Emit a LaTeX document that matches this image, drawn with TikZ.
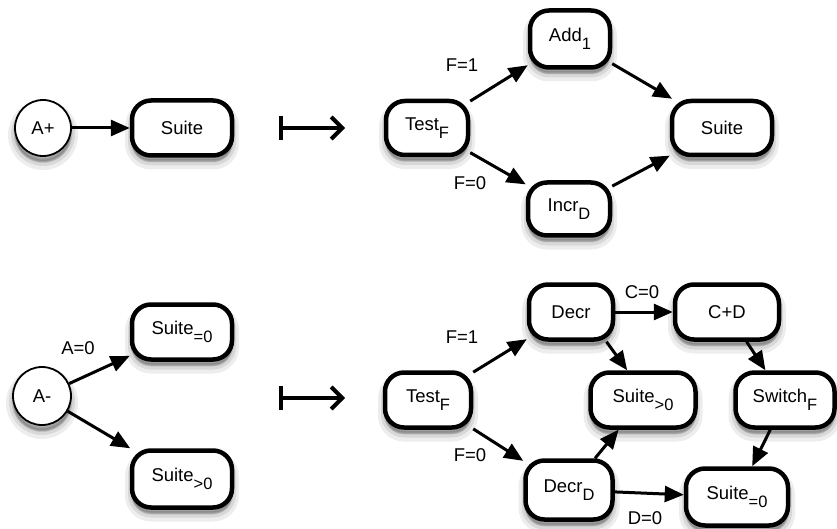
\documentclass[tikz,border=0pt]{standalone}
\usepackage{fontspec}
\setmainfont{Liberation Sans}
\usetikzlibrary{arrows.meta}
\newcommand{\sbx}[1]{\raisebox{-8pt}{\fontsize{16.5}{16.5}\selectfont #1}}
\begin{document}
\begin{tikzpicture}[x=1pt,y=-1pt,
  shad/.style={
    preaction={draw=black,fill=black,draw opacity=0.07,fill opacity=0.07,line width=14pt,transform canvas={yshift=-7pt}},
    preaction={draw=black,fill=black,draw opacity=0.09,fill opacity=0.09,line width=8pt,transform canvas={yshift=-6pt}},
    preaction={draw=black,fill=black,draw opacity=0.12,fill opacity=0.12,line width=3pt,transform canvas={yshift=-5pt}}},
  box/.style={draw,line width=4.5pt,rounded corners=19pt,fill=white,inner sep=0pt,font=\fontsize{18.5}{18.5}\selectfont,shad},
  circ/.style={circle,draw,line width=1.8pt,fill=white,inner sep=0pt,font=\fontsize{18.5}{18.5}\selectfont,shad},
  edge/.style={-{Triangle[length=19pt,width=16pt]},line width=3pt},
  lab/.style={font=\fontsize{18.5}{18.5}\selectfont,inner sep=0pt},
  mapsto/.style={{Bar[width=24pt]}-{Straight Barb[length=11pt,width=22pt]},line width=4pt}]
\useasboundingbox (0,0) rectangle (837,529);

% top left
\node[circ,minimum size=56pt] (aplus) at (43,128) {A+};
\node[box,minimum width=100pt,minimum height=55pt] (s1) at (182,128) {Suite};
\draw[edge] (aplus) -- (s1);
\coordinate (ms1) at (279,128);
\coordinate (me1) at (345,128);
\draw[mapsto] (ms1) -- (me1);

% top right
\node[box,minimum width=82pt,minimum height=54pt] (test1) at (427,128) {Test\sbx{F}};
\node[box,minimum width=80pt,minimum height=57pt] (add1) at (570,39) {Add\sbx{1}};
\node[box,minimum width=82pt,minimum height=53pt] (incr) at (569,209) {Incr\sbx{D}};
\node[box,minimum width=100pt,minimum height=54pt] (s2) at (722,128) {Suite};
\draw[edge] (test1) -- (add1);
\draw[edge] (test1) -- (incr);
\draw[edge] (add1) -- (s2);
\draw[edge] (incr) -- (s2);
\node[lab] (l1) at (462,65) {F=1};
\node[lab] (l2) at (470,183) {F=0};

% bottom left
\node[circ,minimum size=58pt] (aminus) at (42,396) {A-};
\node[box,minimum width=100pt,minimum height=55pt] (sz) at (182,332) {Suite\sbx{=0}};
\node[box,minimum width=100pt,minimum height=57pt] (sp) at (182,479) {Suite\sbx{>0}};
\draw[edge] (aminus) -- (sz);
\draw[edge] (aminus) -- (sp);
\node[lab] (l3) at (78,348) {A=0};
\coordinate (ms2) at (279,398);
\coordinate (me2) at (345,398);
\draw[mapsto] (ms2) -- (me2);

% bottom right
\node[box,minimum width=84pt,minimum height=55pt] (decr) at (571,312) {Decr};
\node[box,minimum width=104pt,minimum height=55pt] (cd) at (727,312) {C+D};
\node[box,minimum width=86pt,minimum height=55pt] (test2) at (428,400) {Test\sbx{F}};
\node[box,minimum width=105pt,minimum height=55pt] (sp2) at (643,400) {Suite\sbx{>0}};
\node[box,minimum width=99pt,minimum height=55pt] (sw) at (785,400) {Switch\sbx{F}};
\node[box,minimum width=87pt,minimum height=59pt] (decrd) at (569,490) {Decr\sbx{D}};
\node[box,minimum width=102pt,minimum height=57pt] (sz2) at (737,497) {Suite\sbx{=0}};
\draw[edge] (test2) -- (decr);
\draw[edge] (test2) -- (decrd);
\draw[edge] (decr) -- (cd);
\draw[edge] (decr.-40) -- (sp2.118);
\draw[edge] (cd) -- (sw);
\draw[edge] (sw) -- (sz2);
\draw[edge] (decrd) -- (sp2);
\draw[edge] (decrd) -- (sz2);
\node[lab] (l4) at (642,292) {C=0};
\node[lab] (l5) at (462,337) {F=1};
\node[lab] (l6) at (470,455) {F=0};
\node[lab] (l7) at (645,518) {D=0};
\end{tikzpicture}
\end{document}
